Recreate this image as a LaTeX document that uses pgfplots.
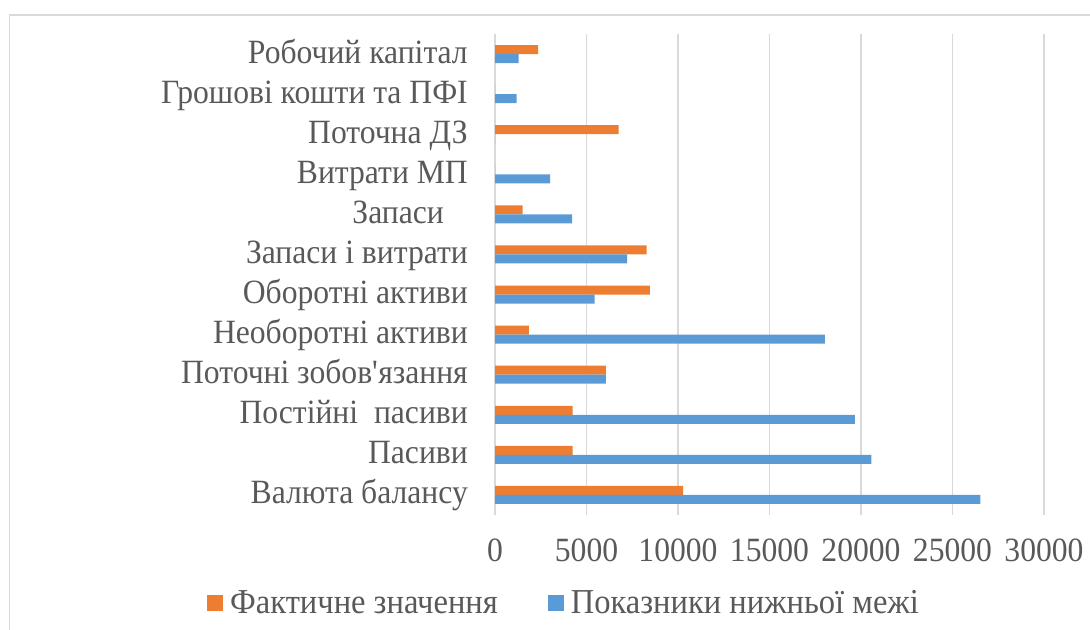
\documentclass[border=0pt]{standalone}
\usepackage{fontspec}
\setmainfont{Liberation Serif}[FakeStretch=0.93]
\usepackage{pgfplots}
\pgfplotsset{compat=1.18}
\definecolor{cOr}{HTML}{ED7D31}
\definecolor{cBl}{HTML}{5B9BD5}
\definecolor{cGr}{HTML}{D9D9D9}
\definecolor{cTx}{HTML}{595959}
\begin{document}
\begin{tikzpicture}[font=\fontsize{34bp}{40bp}\selectfont]
\path[use as bounding box] (0bp,0bp) rectangle (1090bp,630bp);
\draw[cGr, line width=1.5bp] (9.5bp,-10bp) -- (9.5bp,615bp) -- (1100bp,615bp);
\begin{axis}[
  at={(495bp,115bp)}, anchor=south west, scale only axis,
  width=549bp, height=481bp,
  xbar, bar width=9bp,
  xmin=0, xmax=30000, ymin=-0.5, ymax=11.5,
  xtick={0,5000,...,30000},
  ytick={0,...,11},
  yticklabels={Валюта балансу, Пасиви, Постійні~~пасиви, Поточні зобов\textquotesingle язання, Необоротні активи, Оборотні активи, Запаси і витрати, Запаси\hspace*{24bp}, Витрати МП, Поточна ДЗ, Грошові кошти та ПФІ, Робочий капітал},
  xmajorgrids, major grid style={cGr, line width=1.5bp},
  axis line style={draw=none},
  major tick length=0pt,
  scaled x ticks=false,
  /pgf/number format/assume math mode=true,
  /pgf/number format/1000 sep={},
  xticklabel style={anchor=center, yshift=-35bp, text=cTx, inner sep=0pt},
  yticklabel style={anchor=base east, xshift=-27bp, yshift=-9bp, text=cTx, inner sep=0pt},
  legend style={at={(axis description cs:-0.5246,-0.182)}, anchor=west, draw=none, fill=none,
    legend columns=2, inner sep=0pt, text=cTx,
    font=\fontsize{35bp}{40bp}\selectfont,
    nodes={inner sep=0pt},
    /tikz/every odd column/.style={column sep=7bp},
    /tikz/every even column/.style={column sep=50bp}},
  legend image code/.code={\fill[#1, draw=none] (0bp,-8bp) rectangle (16bp,8bp);},
]
\addplot[fill=cOr, draw=none, bar shift=4.5bp] coordinates {
  (10280,0) (4240,1) (4240,2) (6060,3) (1850,4) (8460,5)
  (8280,6) (1510,7) (0,8) (6760,9) (0,10) (2350,11)};
\addplot[fill=cBl, draw=none, bar shift=-4.5bp] coordinates {
  (26520,0) (20560,1) (19660,2) (6060,3) (18020,4) (5450,5)
  (7220,6) (4210,7) (3010,8) (0,9) (1180,10) (1290,11)};
\legend{Фактичне значення, Показники нижньої межі}
\end{axis}
\end{tikzpicture}
\end{document}
